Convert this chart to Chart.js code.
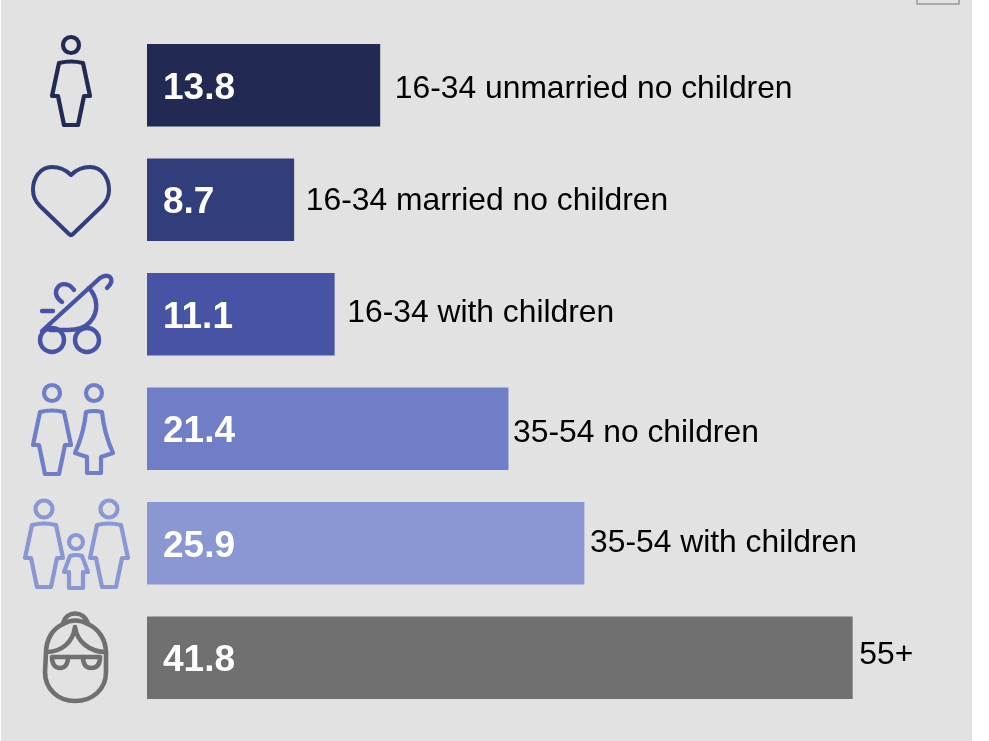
<!DOCTYPE html>
<html>
<head>
<meta charset="utf-8">
<style>
  html, body { margin: 0; padding: 0; background: #fff; }
  #wrap { position: relative; width: 989px; height: 741px; overflow: hidden; }
  #panel { position: absolute; left: 1px; top: 0; width: 971px; height: 741px; background: #e2e2e2; }
  #corner { position: absolute; left: 916px; top: -6px; width: 40px; height: 7px; border: 2px solid #aaa; }
  canvas { position: absolute; left: 0; top: 0; }
</style>
<script src="https://cdn.jsdelivr.net/npm/chart.js@4"></script>
</head>
<body>
<div id="wrap">
  <div id="panel"></div>
  <div id="corner"></div>
  <canvas id="chart" width="989" height="741"></canvas>
</div>
<script>
// Data
const groups = ['16-34 unmarried no children', '16-34 married no children', '16-34 with children', '35-54 no children', '35-54 with children', '55+'];
const shares = [13.8, 8.7, 11.1, 21.4, 25.9, 41.8];
const barColours = ['#222a53', '#323d7b', '#4754a5', '#6f7ec6', '#8b97d2', '#707070'];

// Label nudges, the source places each text box by hand
const labelGapX = [15, 12, 13, 5, 6, 7];
const labelGapY = [4, 1, -1, 4, 0, -3];
const valueGapY = [4, 3, 4, 3, 4, 3];

// Icon shapes, in page pixels
const head = (x, y, r) => `M${x - r} ${y}a${r} ${r} 0 1 0 ${2 * r} 0a${r} ${r} 0 1 0 ${-2 * r} 0Z`;
const adult = (x, y) => `M${x - 12} ${y + 1}Q${x} ${y - 2} ${x + 12} ${y + 1}L${x + 19} ${y + 34}H${x + 13}L${x + 7} ${y + 63}H${x - 7}L${x - 13} ${y + 34}H${x - 19}Z`;
const female = (x, y) => `M${x - 8} ${y + 1}Q${x} ${y - 1} ${x + 8} ${y + 1}Q${x + 10} ${y + 22} ${x + 19} ${y + 42}L${x + 7} ${y + 46}V${y + 62}H${x - 7}V${y + 46}L${x - 19} ${y + 42}Q${x - 10} ${y + 22} ${x - 8} ${y + 1}Z`;
const child = (x, y) => `M${x - 6} ${y + 1}Q${x} ${y - 1} ${x + 6} ${y + 1}L${x + 12} ${y + 17}H${x + 7}V${y + 33}H${x - 7}V${y + 17}H${x - 12}Z`;

const icons = [
  { w: 4.2, d: [head(71, 45, 8), adult(71, 62)] },
  { w: 4, d: ['M71 175C65 169 58 167 52 167C40 167 33 178 33 190C33 197 36 202 40 206L69 234Q71 236 73 234L102 206C106 202 109 197 109 190C109 178 102 167 90 167C84 167 77 169 71 175Z'] },
  { w: 4.4, d: [
    head(52, 340, 12), head(87, 340, 12),
    'M42 331L100 278Q106 274 110 277Q114 281 107 288',
    'M89 288C98 298 99 312 90 322C84 329 76 330 68 330H50',
    'M74 290C70 284 62 282 58 287C54 292 56 298 62 302',
    'M42 311H53'
  ] },
  { w: 4.2, d: [head(52, 393, 8), adult(52, 411), head(94, 393, 8), female(94, 411)] },
  { w: 4.2, d: [head(44, 509, 8.5), adult(44, 524), head(109, 509, 8.5), adult(109, 524), head(76, 542, 7), child(76, 555)] },
  { w: 4.6, d: [
    'M46 653C46 640 52 629 63 624C66 610 84 610 88 624C99 629 106 640 106 653V672C106 689 93 701 75 701C58 701 45 689 45 672Z',
    'M46 652C62 652 73 642 75 627C77 642 90 652 106 652',
    'M63 624Q75 617 88 624',
    'M52 657H68C68 664 65 668 60 668C55 668 52 664 52 657Z',
    'M83 657H100C100 664 97 668 91 668C86 668 83 664 83 657Z',
    'M68 657H83'
  ] }
];

// Draws the value inside the bar, the text after it and the icon at the left
const rowDecor = {
  id: 'rowDecor',
  afterDatasetsDraw(chart) {
    const { ctx, scales: { x, y } } = chart;
    ctx.save();
    ctx.textBaseline = 'middle';
    groups.forEach((name, i) => {
      const end = x.getPixelForValue(shares[i]);
      const mid = y.getPixelForValue(i);

      ctx.fillStyle = '#fff';
      ctx.font = 'bold 37px "Liberation Sans"';
      ctx.fillText(shares[i].toFixed(1), x.getPixelForValue(0) + 16, mid + valueGapY[i]);

      ctx.fillStyle = '#000';
      ctx.font = '31.8px "Liberation Sans"';
      ctx.fillText(name, end + labelGapX[i], mid + labelGapY[i]);

      ctx.strokeStyle = barColours[i];
      ctx.lineWidth = icons[i].w;
      ctx.lineJoin = 'round';
      ctx.lineCap = 'round';
      icons[i].d.forEach(p => ctx.stroke(new Path2D(p)));
    });
    ctx.restore();
  }
};

new Chart(document.getElementById('chart'), {
  type: 'bar',
  data: {
    labels: groups,
    datasets: [{ data: shares, backgroundColor: barColours, barThickness: 82 }]
  },
  options: {
    indexAxis: 'y',
    responsive: false,
    animation: false,
    layout: { padding: { left: 147, top: 28, bottom: 26, right: 0 } },
    plugins: { legend: { display: false }, tooltip: { enabled: false } },
    scales: {
      x: { display: false, min: 0, max: 49.9 },
      y: { display: false }
    }
  },
  plugins: [rowDecor]
});
</script>
</body>
</html>
